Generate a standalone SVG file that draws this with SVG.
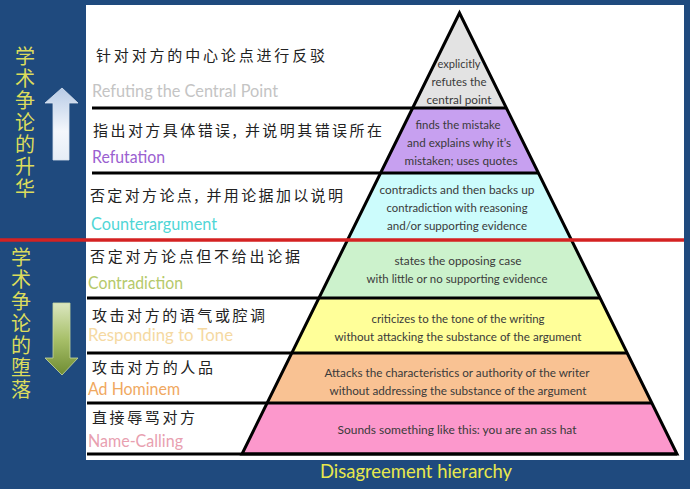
<svg xmlns="http://www.w3.org/2000/svg" width="690" height="489" viewBox="0 0 690 489">
<defs>
<linearGradient id="gUp" x1="0" y1="0" x2="0" y2="1">
<stop offset="0" stop-color="#b7cbe6"/>
<stop offset="0.6" stop-color="#f4f7fc"/>
<stop offset="1" stop-color="#e6edf6"/>
</linearGradient>
<linearGradient id="gDown" x1="0" y1="0" x2="0" y2="1">
<stop offset="0" stop-color="#dbe7c0"/>
<stop offset="0.5" stop-color="#a8c06a"/>
<stop offset="1" stop-color="#6f8c32"/>
</linearGradient>
</defs>
<style>
.cn{font-family:"Noto Sans CJK SC","Noto Sans",sans-serif;font-size:15px;fill:#222;}
.en{font-family:Lato,"Liberation Sans",sans-serif;font-size:18px;}
.pt{font-family:Lato,"Liberation Sans",sans-serif;font-size:11.5px;fill:#3a3a3a;text-anchor:middle;}
.vt{font-family:"Noto Sans CJK SC",sans-serif;font-size:20px;fill:#dcdc5c;writing-mode:vertical-rl;letter-spacing:2px;}
.sep{stroke:#000;stroke-width:3;fill:none;}
.band{stroke:none;}
</style>
<rect x="0" y="0" width="690" height="489" fill="#1f4a7e"/>
<rect x="86" y="5" width="598" height="455" fill="#ffffff"/>

<g id="side-labels">
<text class="vt" x="25" y="46">学术争论的升华</text>
<text class="vt" x="21" y="247">学术争论的堕落</text>
</g>
<g id="arrow-up">
<polygon points="62,88 78,103 69,103 69,160 53,160 53,103 45,103" fill="url(#gUp)" stroke="#d8e2ef" stroke-width="0.8"/>
</g>
<g id="arrow-down">
<polygon points="53,303 70,303 70,358 78,358 62,375 45,358 53,358" fill="url(#gDown)" stroke="#c8d8a0" stroke-width="0.8"/>
</g>

<g id="level-central-point">
<polygon class="band" points="459.5,13 412.6,108 506.4,108" fill="#e3e3e3"/>
<text class="cn" x="96" y="61" textLength="229" lengthAdjust="spacing">针对对方的中心论点进行反驳</text>
<text class="en" x="92" y="97" fill="#c4c4c4" textLength="186" lengthAdjust="spacingAndGlyphs">Refuting the Central Point</text>
<text class="pt" x="459" y="68" textLength="43" lengthAdjust="spacingAndGlyphs">explicitly</text>
<text class="pt" x="459" y="86" textLength="55" lengthAdjust="spacingAndGlyphs">refutes the</text>
<text class="pt" x="459" y="104" textLength="65" lengthAdjust="spacingAndGlyphs">central point</text>
</g>
<g id="level-refutation">
<polygon class="band" points="412.6,108 506.4,108 538.4,173 380.6,173" fill="#c7a0f0"/>
<text class="cn" x="93" y="136" textLength="289" lengthAdjust="spacing">指出对方具体错误, 并说明其错误所在</text>
<text class="en" x="92" y="163" fill="#9a60d0" textLength="73" lengthAdjust="spacingAndGlyphs">Refutation</text>
<text class="pt" x="458" y="129" textLength="85" lengthAdjust="spacingAndGlyphs">finds the mistake</text>
<text class="pt" x="459" y="147" textLength="104" lengthAdjust="spacingAndGlyphs">and explains why it’s</text>
<text class="pt" x="461" y="165" textLength="113" lengthAdjust="spacingAndGlyphs">mistaken; uses quotes</text>
</g>
<g id="level-counterargument">
<polygon class="band" points="380.6,173 538.4,173 571.5,240 347.5,240" fill="#ccfcfc"/>
<text class="cn" x="90" y="201" textLength="253" lengthAdjust="spacing">否定对方论点, 并用论据加以说明</text>
<text class="en" x="91" y="230" fill="#50d6d6" textLength="126" lengthAdjust="spacingAndGlyphs">Counterargument</text>
<text class="pt" x="457" y="194" textLength="155" lengthAdjust="spacingAndGlyphs">contradicts and then backs up</text>
<text class="pt" x="457" y="212" textLength="141" lengthAdjust="spacingAndGlyphs">contradiction with reasoning</text>
<text class="pt" x="457" y="230" textLength="140" lengthAdjust="spacingAndGlyphs">and/or supporting evidence</text>
</g>
<g id="level-contradiction">
<polygon class="band" points="347.5,240 571.5,240 600.1,298 318.9,298" fill="#ccf2cc"/>
<text class="cn" x="90" y="262" textLength="210" lengthAdjust="spacing">否定对方论点但不给出论据</text>
<text class="en" x="88" y="289" fill="#b5c96a" textLength="95" lengthAdjust="spacingAndGlyphs">Contradiction</text>
<text class="pt" x="458" y="265" textLength="127" lengthAdjust="spacingAndGlyphs">states the opposing case</text>
<text class="pt" x="457" y="283" textLength="181" lengthAdjust="spacingAndGlyphs">with little or no supporting evidence</text>
</g>
<g id="level-tone">
<polygon class="band" points="318.9,298 600.1,298 627.2,353 291.8,353" fill="#ffff99"/>
<text class="cn" x="92" y="321" textLength="173" lengthAdjust="spacing">攻击对方的语气或腔调</text>
<text class="en" x="88" y="341" fill="#f5d9a2" textLength="145" lengthAdjust="spacingAndGlyphs">Responding to Tone</text>
<text class="pt" x="458" y="323" textLength="173" lengthAdjust="spacingAndGlyphs">criticizes to the tone of the writing</text>
<text class="pt" x="458" y="341" textLength="247" lengthAdjust="spacingAndGlyphs">without attacking the substance of the argument</text>
</g>
<g id="level-ad-hominem">
<polygon class="band" points="291.8,353 627.2,353 651.8,403 267.2,403" fill="#f9c293"/>
<text class="cn" x="92" y="373" textLength="121" lengthAdjust="spacing">攻击对方的人品</text>
<text class="en" x="88" y="395" fill="#f0a860" textLength="92" lengthAdjust="spacingAndGlyphs">Ad Hominem</text>
<text class="pt" x="457" y="377" textLength="265" lengthAdjust="spacingAndGlyphs">Attacks the  characteristics or authority of the writer</text>
<text class="pt" x="458" y="395" textLength="257" lengthAdjust="spacingAndGlyphs">without addressing the substance of the argument</text>
</g>
<g id="level-name-calling">
<polygon class="band" points="267.2,403 651.8,403 677,454 242,454" fill="#fc98cc"/>
<text class="cn" x="92" y="423" textLength="103" lengthAdjust="spacing">直接辱骂对方</text>
<text class="en" x="88" y="447" fill="#e8a0b0" textLength="95" lengthAdjust="spacingAndGlyphs">Name-Calling</text>
<text class="pt" x="457" y="434" fill="#5a2a45" textLength="239" lengthAdjust="spacingAndGlyphs">Sounds something like this: you are an ass hat</text>
</g>

<g id="connectors">
<polygon class="sep" points="459.5,13 677,454 242,454" stroke-linejoin="miter"/>
<line class="sep" x1="92" y1="108" x2="506.4" y2="108"/>
<line class="sep" x1="92" y1="173" x2="538.4" y2="173"/>
<line class="sep" x1="87" y1="298" x2="600.1" y2="298"/>
<line class="sep" x1="87" y1="353" x2="627.2" y2="353"/>
<line class="sep" x1="87" y1="403" x2="651.8" y2="403"/>
<line class="sep" x1="87" y1="454" x2="677" y2="454"/>
<line x1="0" y1="240" x2="684" y2="240" stroke="#d42222" stroke-width="3.5"/>
</g>

<g id="title">
<text x="320" y="478" font-family="Lato,'Liberation Sans',sans-serif" font-size="19" fill="#e8e84c" textLength="192" lengthAdjust="spacingAndGlyphs">Disagreement hierarchy</text>
</g>
</svg>
